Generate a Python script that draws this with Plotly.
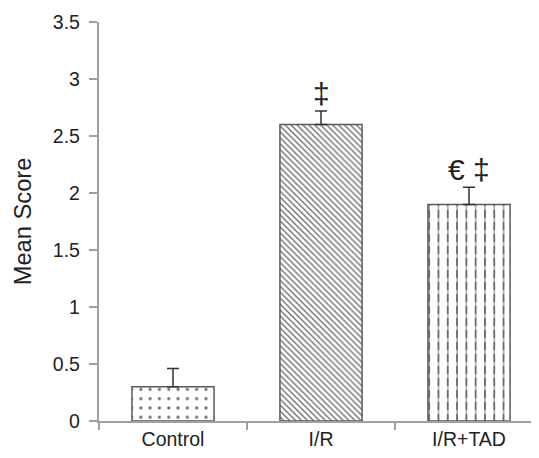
import plotly.graph_objects as go

categories = ["Control", "I/R", "I/R+TAD"]
means = [0.30, 2.60, 1.90]
errors = [0.16, 0.12, 0.15]
markers = ["", "‡", "€ ‡"]
y_ticks = [0, 0.5, 1, 1.5, 2, 2.5, 3, 3.5]
y_tick_labels = ["0", "0.5", "1", "1.5", "2", "2.5", "3", "3.5"]

FONT = "Liberation Sans, Arial, Helvetica, sans-serif"
AXIS_COLOR = "#a0a0a0"
BAR_LINE = "#5a5a5a"
BAR_WIDTH = 0.555

shapes = [".", "\\", "|"]
pattern_sizes = [9.3, 4.2, 9.3]
solidities = [0.09, 0.3, 0.2]

fig = go.Figure()
# patterned fills
fig.add_trace(go.Bar(
    x=categories, y=means, width=BAR_WIDTH,
    marker=dict(
        color="white", line=dict(width=0),
        pattern=dict(shape=shapes, size=pattern_sizes, solidity=solidities,
                     fgcolor="#6a6a6a", bgcolor="white", fillmode="replace"),
    ),
    showlegend=False, hoverinfo="skip",
))
# white horizontal breaks turn the vertical lines of the third bar into dashes
fig.add_trace(go.Bar(
    x=categories[2:], y=means[2:], width=BAR_WIDTH,
    marker=dict(
        color="rgba(0,0,0,0)", line=dict(width=0),
        pattern=dict(shape="-", size=12, solidity=0.35,
                     fgcolor="white", bgcolor="rgba(0,0,0,0)", fillmode="overlay"),
    ),
    showlegend=False, hoverinfo="skip",
))
# outlines and error bars
fig.add_trace(go.Bar(
    x=categories, y=means, width=BAR_WIDTH,
    marker=dict(color="rgba(0,0,0,0)", line=dict(color=BAR_LINE, width=1.5)),
    error_y=dict(type="data", array=errors, arrayminus=[0, 0, 0], symmetric=False,
                 color="#333333", thickness=1.5, width=6),
    showlegend=False,
))

for c, m, e, t in zip(categories, means, errors, markers):
    if t:
        fig.add_annotation(x=c, y=m + e, text=t, showarrow=False, yanchor="bottom",
                           yshift=-1, font=dict(family=FONT, size=30, color="#222222"))

# the page body adds an 8px margin, so the figure is 8px smaller than the window
fig.update_layout(
    width=531, height=450,
    margin=dict(l=91, r=0, t=14, b=37, autoexpand=False),
    paper_bgcolor="white", plot_bgcolor="white",
    font=dict(family=FONT, size=19.5, color="#222222"),
    barmode="overlay",
)
fig.update_xaxes(
    range=[-0.5, 2.473], automargin=False,
    showline=True, linecolor=AXIS_COLOR, linewidth=1.5,
    ticks="outside", tickson="boundaries", ticklen=7, tickcolor=AXIS_COLOR, tickwidth=1.5,
    tickfont=dict(size=19.5), showgrid=False, zeroline=False,
)
fig.update_yaxes(
    range=[0, 3.5], automargin=False,
    tickvals=y_ticks, ticktext=[t + "\u00a0" for t in y_tick_labels],
    showline=True, linecolor=AXIS_COLOR, linewidth=1.5,
    ticks="outside", ticklen=8, tickcolor=AXIS_COLOR, tickwidth=1.5,
    tickfont=dict(size=19.5), showgrid=False, zeroline=False,
    title=dict(text="Mean Score", font=dict(size=23.7)),
)

fig.write_html("out.html")
